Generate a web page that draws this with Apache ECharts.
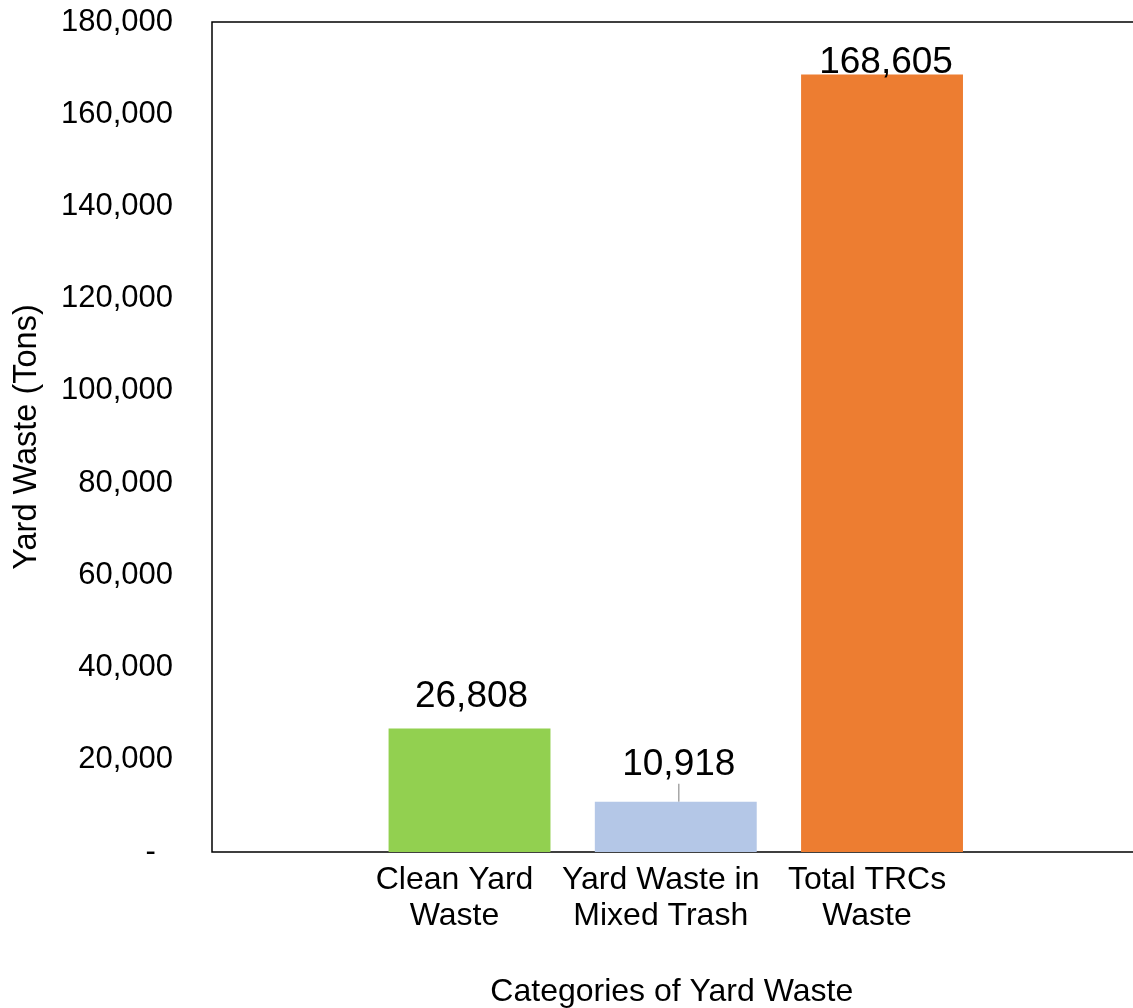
<!DOCTYPE html>
<html>
<head>
<meta charset="utf-8">
<style>
html,body{margin:0;padding:0;background:#fff;}
#chart{width:1133px;height:1008px;}
</style>
<script src="https://cdn.jsdelivr.net/npm/echarts@6/dist/echarts.min.js"></script>
</head>
<body>
<div id="chart"></div>
<script>
var categories = ['Clean Yard\nWaste', 'Yard Waste in\nMixed Trash', 'Total TRCs\nWaste'];
var values = [26808, 10918, 168605];
var barColors = ['#92D050', '#B4C7E7', '#ED7D31'];
var labelShiftY = [-8.5, -13, 12];
var labelShiftX = [2, 3, 4];
var yMin = 0, yMax = 180000, yStep = 20000;

var FONT = "'Liberation Sans', Arial, sans-serif";
var chart = echarts.init(document.getElementById('chart'));

var data = values.map(function (v, i) {
  var item = { value: v, itemStyle: { color: barColors[i] } };
  if (i === 1) item.labelLine = { show: true, lineStyle: { color: '#a6a6a6', width: 1.5 } };
  return item;
});

chart.setOption({
  animation: false,
  backgroundColor: '#fff',
  grid: [
    { left: 212, width: 980, top: 22, bottom: 156, show: true, borderColor: '#000', borderWidth: 1.5, backgroundColor: 'transparent', outerBoundsMode: 'none', containLabel: false },
    { left: 366.4, right: 147.85, top: 22, bottom: 156, outerBoundsMode: 'none', containLabel: false }
  ],
  xAxis: [
    { gridIndex: 0, type: 'category', data: [], show: false },
    {
      gridIndex: 1, type: 'category', data: categories,
      axisLine: { show: false }, axisTick: { show: false },
      axisLabel: { color: '#000', fontSize: 32, fontFamily: FONT, lineHeight: 36, margin: 10, interval: 0, padding: [0, 30, 0, 0] },
      name: 'Categories of Yard Waste', nameLocation: 'middle', nameGap: 124,
      nameTextStyle: { color: '#000', fontSize: 32, fontFamily: FONT, padding: [0, 8, 0, 0] }
    }
  ],
  yAxis: [
    {
      gridIndex: 0, type: 'value', min: yMin, max: yMax, interval: yStep,
      axisLine: { show: false }, axisTick: { show: false }, splitLine: { show: false },
      axisLabel: {
        color: '#000', fontSize: 31, fontFamily: FONT, margin: 39,
        formatter: function (v) { return v === 0 ? '-  ' : echarts.format.addCommas(v); }
      },
      name: 'Yard Waste (Tons)', nameLocation: 'middle', nameGap: 168,
      nameTextStyle: { color: '#000', fontSize: 32.5, fontFamily: FONT }
    },
    { gridIndex: 1, type: 'value', min: yMin, max: yMax, interval: yStep, show: false }
  ],
  series: [{
    type: 'bar',
    xAxisIndex: 1, yAxisIndex: 1,
    barWidth: '78.5%',
    data: data,
    label: {
      show: true, position: 'top', distance: 5,
      color: '#000', fontSize: 37, fontFamily: FONT,
      formatter: function (p) { return echarts.format.addCommas(p.value); }
    },
    labelLine: { show: false },
    labelLayout: function (p) { return { dx: labelShiftX[p.dataIndex], dy: labelShiftY[p.dataIndex] }; }
  }]
});
</script>
</body>
</html>
